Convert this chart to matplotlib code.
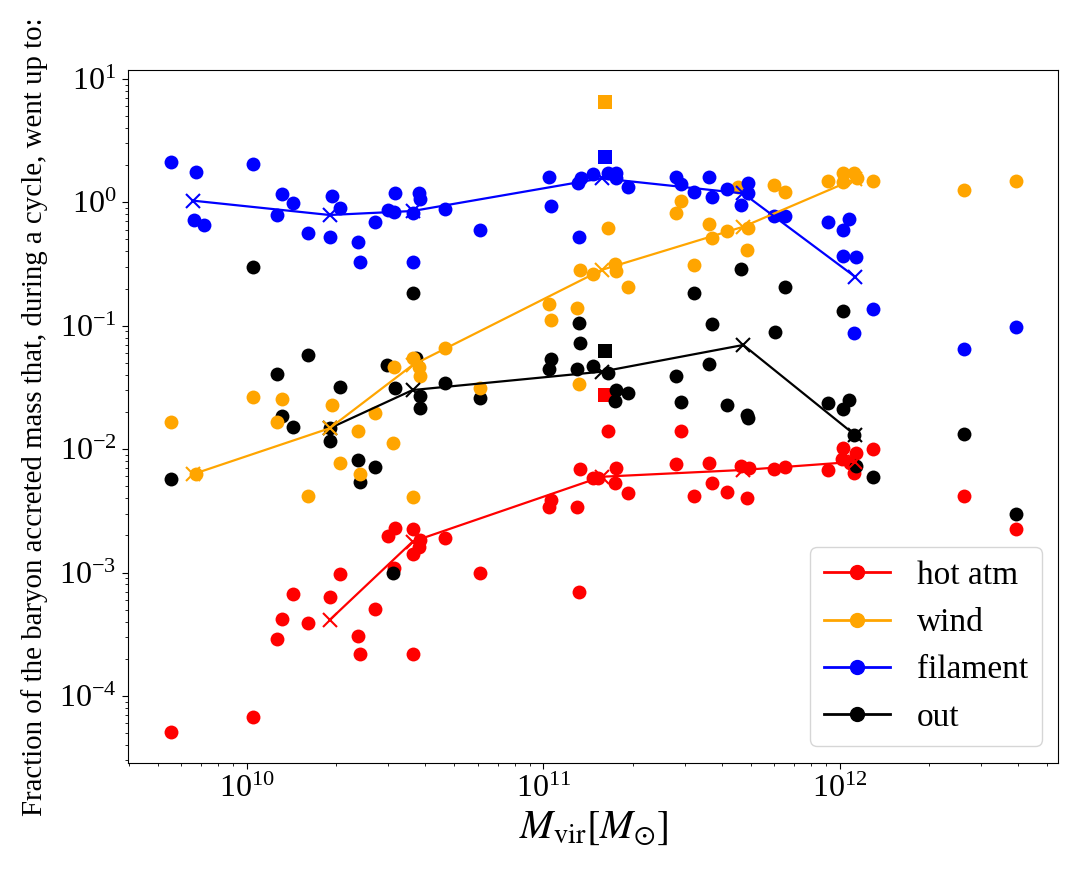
import matplotlib
matplotlib.use('Agg')
import matplotlib.pyplot as plt

plt.rcParams['font.family'] = ['Liberation Serif', 'DejaVu Serif']
plt.rcParams['mathtext.fontset'] = 'stix'

# hot atm (red)
hot_m = [5.53e9, 1.05e10, 1.26e10, 1.315e10, 1.426e10, 1.606e10, 1.91e10, 2.06e10,
         2.37e10, 2.405e10, 2.70e10, 3.0e10, 3.16e10, 3.13e10, 3.64e10, 3.81e10,
         3.83e10, 3.62e10, 3.64e10, 4.65e10, 6.11e10, 1.044e11, 1.06e11, 1.30e11,
         1.327e11, 1.318e11, 1.472e11, 1.53e11, 1.654e11, 1.756e11, 1.742e11, 1.93e11,
         2.80e11, 2.91e11, 3.22e11, 3.61e11, 3.71e11, 4.15e11, 4.64e11, 4.94e11,
         4.84e11, 6.0e11, 6.53e11, 9.13e11, 1.026e12, 1.132e12, 1.014e12, 1.081e12,
         1.117e12, 1.289e12, 2.626e12, 3.92e12]
hot_f = [5.13e-5, 6.71e-5, 2.88e-4, 4.2e-4, 6.66e-4, 3.92e-4, 6.37e-4, 9.72e-4,
         3.06e-4, 2.2e-4, 5.09e-4, 1.976e-3, 2.28e-3, 1.08e-3, 2.25e-3, 1.62e-3,
         1.834e-3, 1.41e-3, 2.2e-4, 1.89e-3, 9.96e-4, 3.41e-3, 3.87e-3, 3.38e-3,
         6.86e-3, 6.99e-4, 5.8e-3, 5.8e-3, 1.402e-2, 6.99e-3, 5.34e-3, 4.43e-3,
         7.57e-3, 1.402e-2, 4.19e-3, 7.67e-3, 5.34e-3, 4.47e-3, 7.34e-3, 6.99e-3,
         4.04e-3, 6.86e-3, 7.2e-3, 6.77e-3, 1.026e-2, 9.25e-3, 8.27e-3, 7.67e-3,
         6.44e-3, 9.96e-3, 4.19e-3, 2.24e-3]

# wind (orange)
wind_m = [5.53e9, 6.71e9, 1.05e10, 1.315e10, 1.26e10, 1.606e10, 1.93e10, 2.06e10,
          2.37e10, 2.405e10, 2.70e10, 3.13e10, 3.11e10, 3.64e10, 3.81e10, 3.83e10,
          3.64e10, 4.65e10, 6.11e10, 1.044e11, 1.06e11, 1.30e11, 1.327e11, 1.472e11,
          1.318e11, 1.654e11, 1.742e11, 1.76e11, 1.93e11, 2.80e11, 2.91e11, 3.22e11,
          3.61e11, 3.71e11, 4.15e11, 4.54e11, 4.91e11, 4.84e11, 6.0e11, 6.53e11,
          9.13e11, 1.026e12, 1.117e12, 1.026e12, 1.138e12, 1.289e12, 2.626e12, 3.92e12]
wind_f = [0.0167, 0.00628, 0.0263, 0.0255, 0.0167, 0.00419, 0.0226, 0.00767,
          0.0141, 0.00628, 0.0197, 0.0465, 0.0113, 0.0544, 0.0465, 0.0391,
          0.00411, 0.0656, 0.0311, 0.149, 0.111, 0.138, 0.283, 0.261,
          0.0335, 0.616, 0.316, 0.279, 0.207, 0.814, 1.03, 0.310,
          0.663, 0.511, 0.589, 1.34, 0.616, 0.411, 1.38, 1.22,
          1.50, 1.72, 1.72, 1.47, 1.565, 1.50, 1.26, 1.50]

# filament (blue)
fil_m = [5.53e9, 6.71e9, 6.63e9, 7.16e9, 1.05e10, 1.315e10, 1.426e10, 1.26e10,
         1.606e10, 1.93e10, 2.06e10, 1.91e10, 2.37e10, 2.405e10, 2.70e10, 3.16e10,
         3.0e10, 3.13e10, 3.80e10, 3.83e10, 3.62e10, 3.64e10, 4.65e10, 6.11e10,
         1.044e11, 1.06e11, 1.318e11, 1.31e11, 1.338e11, 1.472e11, 1.654e11, 1.756e11,
         1.756e11, 1.93e11, 2.80e11, 2.92e11, 3.22e11, 3.61e11, 3.71e11, 4.15e11,
         4.91e11, 4.91e11, 4.64e11, 6.0e11, 6.53e11, 9.13e11, 1.075e12, 1.026e12,
         1.026e12, 1.132e12, 1.289e12, 1.115e12, 2.626e12, 3.92e12]
fil_f = [2.13, 1.77, 0.72, 0.655, 2.03, 1.17, 0.99, 0.79,
         0.567, 1.125, 0.904, 0.526, 0.477, 0.3265, 0.696, 1.196,
         0.866, 0.830, 1.18, 1.058, 0.814, 0.330, 0.882, 0.596,
         1.60, 0.938, 0.52, 1.44, 1.58, 1.69, 1.72, 1.72,
         1.565, 1.34, 1.61, 1.41, 1.22, 1.61, 1.11, 1.27,
         1.44, 1.18, 0.951, 0.774, 0.774, 0.696, 0.728, 0.596,
         0.367, 0.362, 0.1366, 0.0868, 0.0644, 0.0981]

# out (black)
out_m = [5.53e9, 1.05e10, 1.26e10, 1.315e10, 1.426e10, 1.606e10, 1.91e10, 1.91e10,
         2.06e10, 2.37e10, 2.405e10, 2.70e10, 2.96e10, 3.11e10, 3.16e10, 3.64e10,
         3.71e10, 3.83e10, 3.83e10, 4.65e10, 6.11e10, 1.06e11, 1.044e11, 1.318e11,
         1.327e11, 1.30e11, 1.472e11, 1.654e11, 1.756e11, 1.93e11, 1.742e11, 2.80e11,
         2.91e11, 3.22e11, 3.61e11, 3.71e11, 4.15e11, 4.64e11, 4.84e11, 4.91e11,
         6.04e11, 6.53e11, 9.13e11, 1.026e12, 1.075e12, 1.026e12, 1.115e12, 1.132e12,
         1.289e12, 2.626e12, 3.92e12]
out_f = [0.00572, 0.297, 0.0406, 0.0185, 0.0152, 0.0579, 0.01475, 0.0116,
         0.032, 0.00816, 0.00544, 0.0072, 0.048, 0.000996, 0.0311, 0.183,
         0.055, 0.0269, 0.0214, 0.0341, 0.0258, 0.0534, 0.0443, 0.1058,
         0.0728, 0.0443, 0.0474, 0.0416, 0.0301, 0.0283, 0.0247, 0.0391,
         0.0242, 0.183, 0.0487, 0.1032, 0.0228, 0.2865, 0.0189, 0.0178,
         0.0889, 0.207, 0.0238, 0.1323, 0.025, 0.0210, 0.0130, 0.0073,
         0.0059, 0.0132, 0.00298]

# binned curves (x markers)
bin_m = [6.6e9, 1.9e10, 3.62e10, 1.57e11, 4.72e11, 1.125e12]
hot_bin = [4.12e-4, 1.78e-3, 5.97e-3, 6.78e-3, 7.9e-3]
wind_bin = [0.00628, 0.01475, 0.048, 0.283, 0.634, 1.55]
fil_bin = [1.03, 0.789, 0.85, 1.565, 1.18, 0.249]
out_bin = [0.01475, 0.0301, 0.0424, 0.0698, 0.013]

# squares
sq_m = 1.61e11
sq_hot, sq_wind, sq_fil, sq_out = 0.0274, 6.53, 2.34, 0.0627

fig = plt.figure(figsize=(10.81, 8.73), dpi=100)
ax = fig.add_axes([0.1187, 0.1264, 0.8603, 0.7934])
ax.set_xscale('log')
ax.set_yscale('log')

series = [
    (hot_m, hot_f, hot_bin, sq_hot, 'red', 'hot atm'),
    (out_m, out_f, out_bin, sq_out, 'black', 'out'),
    (wind_m, wind_f, wind_bin, sq_wind, 'orange', 'wind'),
    (fil_m, fil_f, fil_bin, sq_fil, 'blue', 'filament'),
]
for m, f, b, sq, c, lab in series:
    ax.scatter(m, f, s=100, color=c, linewidths=0, zorder=2)
    ax.scatter([sq_m], [sq], s=100, marker='s', color=c, linewidths=0, zorder=2)
for m, f, b, sq, c, lab in series:
    ax.plot(bin_m[-len(b):], b, '-x', color=c, lw=1.6, ms=10, mew=1.5, zorder=3)

# legend proxies
for c, lab in [('red', 'hot atm'), ('orange', 'wind'), ('blue', 'filament'), ('black', 'out')]:
    ax.plot([], [], 'o-', color=c, lw=2, ms=10, label=lab)
ax.legend(loc='lower right', fontsize=24, handlelength=2.0)

ax.set_xlim(3.98e9, 5.45e12)
ax.set_ylim(2.88e-5, 11.8)
ax.tick_params(which='major', labelsize=23, length=4.5, pad=4)
ax.tick_params(which='minor', length=2.5)
ax.set_xlabel(r'$M_{\rm vir}[M_{\odot}]$', fontsize=29, labelpad=4)
ax.set_ylabel('Fraction of the baryon accreted mass that, during a cycle, went up to:',
              fontsize=20.8, labelpad=8)

fig.savefig('out.png', dpi=100)
